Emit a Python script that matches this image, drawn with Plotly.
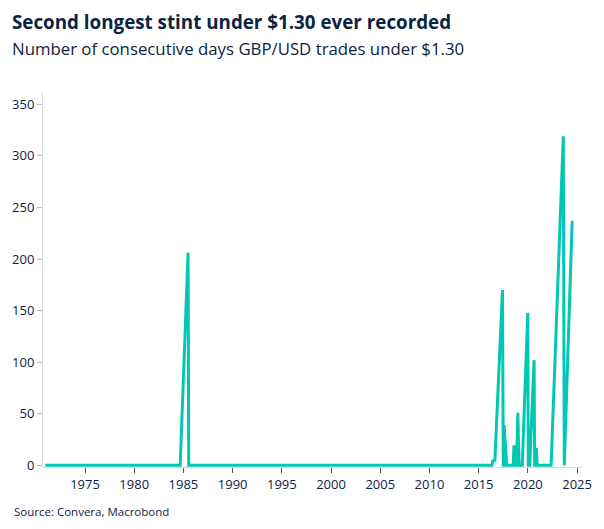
import plotly.graph_objects as go

# Vertices of the series (decimal year, consecutive days under $1.30)
years = [1970.96, 1984.67, 1985.47, 1985.54,
         2016.35, 2016.42, 2016.65, 2017.42, 2017.50, 2017.55, 2017.58, 2017.68, 2017.75, 2017.85,
         2018.52, 2018.58, 2018.68, 2018.75, 2018.85, 2018.98, 2019.05, 2019.12,
         2019.43, 2019.99, 2020.04, 2020.19, 2020.63, 2020.69, 2020.80, 2020.85, 2020.96,
         2022.36, 2023.60, 2023.65, 2023.70, 2024.50]
days = [0, 0, 206, 0,
        0, 4, 5, 170, 0, 0, 39, 21, 20, 0,
        0, 18, 18, 0, 0, 51, 22, 0,
        0, 148, 0, 0, 102, 0, 0, 17, 0,
        0, 319, 0, 0, 237]

y_ticks = [0, 50, 100, 150, 200, 250, 300, 350]
x_ticks = [1975, 1980, 1985, 1990, 1995, 2000, 2005, 2010, 2015, 2020, 2025]

title = "Second longest stint under $1.30 ever recorded"
subtitle = "Number of consecutive days GBP/USD trades under $1.30"
source = "Source: Convera, Macrobond"

W, H = 604, 529
L, R, T, B = 41, 587.3, 93, 466.7
NAVY = "#0d2344"
FONT = "Open Sans"


def px(x):
    return (x - L) / (R - L)


def py(y):
    return (B - y) / (B - T)


fig = go.Figure()
fig.add_trace(go.Scatter(x=years, y=days, mode="lines",
                         line=dict(color="#00C8B2", width=3),
                         hoverinfo="skip", showlegend=False))

fig.update_layout(
    width=W, height=H,
    margin=dict(l=L, r=W - R, t=T, b=H - B),
    paper_bgcolor="white", plot_bgcolor="white",
    font=dict(family=FONT, color=NAVY, size=13),
    xaxis=dict(range=[1970.73, 2025.5], tickvals=x_ticks, showgrid=False,
               showline=True, linecolor="#d9d9d9", linewidth=1,
               ticks="outside", ticklen=5, tickcolor="#555555",
               tickfont=dict(size=13, color=NAVY), zeroline=False),
    yaxis=dict(range=[-1.6, 361], tickvals=y_ticks, showgrid=False,
               showline=True, linecolor="#d9d9d9", linewidth=1,
               ticks="outside", ticklen=5, tickcolor="#bbbbbb",
               tickfont=dict(size=13, color=NAVY), zeroline=False),
    annotations=[
        dict(text="<b>" + title + "</b>", x=px(8), y=py(22), xref="paper", yref="paper",
             xanchor="left", yanchor="middle", showarrow=False,
             font=dict(size=18.8, color=NAVY, family=FONT)),
        dict(text=subtitle, x=px(8), y=py(49), xref="paper", yref="paper",
             xanchor="left", yanchor="middle", showarrow=False,
             font=dict(size=16.8, color=NAVY, family=FONT)),
        dict(text=source, x=px(10), y=py(511), xref="paper", yref="paper",
             xanchor="left", yanchor="middle", showarrow=False,
             font=dict(size=11.5, color=NAVY, family=FONT)),
    ],
)

fig.write_html("out.html")
